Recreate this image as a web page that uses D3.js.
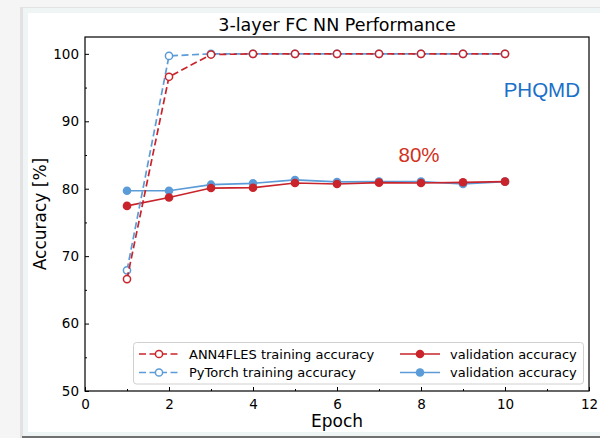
<!DOCTYPE html>
<html><head><meta charset="utf-8">
<script src="https://cdn.jsdelivr.net/npm/d3@7"></script>
<style>html,body{margin:0;padding:0;background:#fff;}svg{display:block;}</style>
</head><body>
<script>
const epochs = [1,2,3,4,5,6,7,8,9,10];
const annTrain = [66.6,96.6,99.9,100,100,100,100,100,100,100];
const torchTrain = [67.9,99.7,100,100,100,100,100,100,100,100];
const annVal = [77.45,78.7,80.1,80.15,80.85,80.7,80.9,80.85,80.95,81.05];
const torchVal = [79.7,79.7,80.6,80.8,81.3,81.0,81.05,81.05,80.7,81.05];
const xTicks = [0,2,4,6,8,10,12];
const yTicks = [50,60,70,80,90,100];
const legendLabels = ["ANN4FLES training accuracy","PyTorch training accuracy","validation accuracy","validation accuracy"];

const W=600,H=441;
const RED="#c9242b", BLUE="#5b9bd8";
const svg=d3.select("body").append("svg").attr("width",W).attr("height",H);
const font="DejaVu Sans, sans-serif";

// page frame
svg.append("rect").attr("x",0).attr("y",0).attr("width",W).attr("height",H).attr("fill","#f5f5f5");
svg.append("rect").attr("x",0).attr("y",438).attr("width",W).attr("height",3).attr("fill","#ffffff");
svg.append("rect").attr("x",20).attr("y",7).attr("width",W).attr("height",431).attr("fill","#e2e2e2");
svg.append("rect").attr("x",23).attr("y",8).attr("width",W).attr("height",429).attr("fill","#eff4f4");
svg.append("rect").attr("x",22).attr("y",436).attr("width",W).attr("height",2).attr("fill","#707070");
svg.append("rect").attr("x",28).attr("y",13).attr("width",W).attr("height",419).attr("fill","#ffffff");

const L=85,R=589,T=37,B=391;
const x=d3.scaleLinear().domain([0,12]).range([L,R]);
const y=d3.scaleLinear().domain([50,102.5]).range([B,T]);

// axes
const xAxis=d3.axisBottom(x).tickValues(xTicks).tickSizeInner(-4).tickSizeOuter(0).tickPadding(6).tickFormat(d3.format("d"));
const yAxis=d3.axisLeft(y).tickValues(yTicks).tickSizeInner(-4).tickSizeOuter(0).tickPadding(6).tickFormat(d3.format("d"));
const gx=svg.append("g").attr("transform",`translate(0,${B})`).call(xAxis);
const gy=svg.append("g").attr("transform",`translate(${L},0)`).call(yAxis);
// minor ticks
svg.append("g").attr("transform",`translate(0,${B})`).call(d3.axisBottom(x).tickValues(d3.range(1,12,2)).tickSize(-2).tickFormat(""));
svg.append("g").attr("transform",`translate(${L},0)`).call(d3.axisLeft(y).tickValues([55,65,75,85,95]).tickSize(-2).tickFormat(""));
svg.selectAll(".domain").remove();
svg.selectAll(".tick line").attr("stroke","#000").attr("stroke-width",1);
svg.selectAll(".tick text").attr("font-family",font).attr("font-size",13.5).attr("fill","#000");
gx.selectAll(".tick text").attr("dy","0.9em");
svg.append("rect").attr("x",L).attr("y",T).attr("width",R-L).attr("height",B-T).attr("fill","none").attr("stroke","#000").attr("stroke-width",1.2);

// labels
svg.append("text").attr("x",(L+R)/2).attr("y",31).attr("text-anchor","middle").attr("font-family",font).attr("font-size",17.5).text("3-layer FC NN Performance");
svg.append("text").attr("x",(L+R)/2).attr("y",427).attr("text-anchor","middle").attr("font-family",font).attr("font-size",17).text("Epoch");
svg.append("text").attr("transform",`translate(46,${(T+B)/2}) rotate(-90)`).attr("text-anchor","middle").attr("font-family",font).attr("font-size",17).text("Accuracy [%]");

svg.append("text").attr("x",580).attr("y",97).attr("text-anchor","end").attr("font-family","Liberation Sans, Arial, sans-serif").attr("font-size",20.5).attr("fill","#1a6fc9").text("PHQMD");
svg.append("text").attr("x",419).attr("y",162).attr("text-anchor","middle").attr("font-family","Liberation Sans, Arial, sans-serif").attr("font-size",20.5).attr("fill","#d0321d").text("80%");

const line=d3.line().x((d,i)=>x(epochs[i])).y(d=>y(d));
function series(vals,color,dashed,filled){
  const g=svg.append("g");
  g.append("path").datum(vals).attr("d",line).attr("fill","none").attr("stroke",color).attr("stroke-width",1.7)
    .attr("stroke-dasharray",dashed?"7,3.5":null);
  g.selectAll("circle").data(vals).join("circle").attr("cx",(d,i)=>x(epochs[i])).attr("cy",d=>y(d))
    .attr("r",filled?4.3:3.6).attr("fill",filled?color:"#fff").attr("stroke",color).attr("stroke-width",filled?0:1.5);
}
series(torchVal,BLUE,false,true);
series(annVal,RED,false,true);
series(torchTrain,BLUE,true,false);
series(annTrain,RED,true,false);

// legend
const lg=svg.append("g");
lg.append("rect").attr("x",133.5).attr("y",342.5).attr("width",450).attr("height",41.5).attr("rx",3).attr("fill","#fff").attr("fill-opacity",0.85).attr("stroke","#d0d0d0").attr("stroke-width",1);
const items=[
 {c:RED,dash:true,fill:false,x:139,yy:354},
 {c:BLUE,dash:true,fill:false,x:139,yy:372.5},
 {c:RED,dash:false,fill:true,x:400,yy:354},
 {c:BLUE,dash:false,fill:true,x:400,yy:372.5}
];
items.forEach((it,i)=>{
  lg.append("line").attr("x1",it.x).attr("x2",it.x+40).attr("y1",it.yy).attr("y2",it.yy).attr("stroke",it.c).attr("stroke-width",1.7).attr("stroke-dasharray",it.dash?"7,3.5":null);
  lg.append("circle").attr("cx",it.x+20).attr("cy",it.yy).attr("r",it.fill?4.3:3.6).attr("fill",it.fill?it.c:"#fff").attr("stroke",it.c).attr("stroke-width",it.fill?0:1.5);
  lg.append("text").attr("x",it.x+50).attr("y",it.yy).attr("dy","0.35em").attr("font-family",font).attr("font-size",13).text(legendLabels[i]);
});
</script>
</body></html>
